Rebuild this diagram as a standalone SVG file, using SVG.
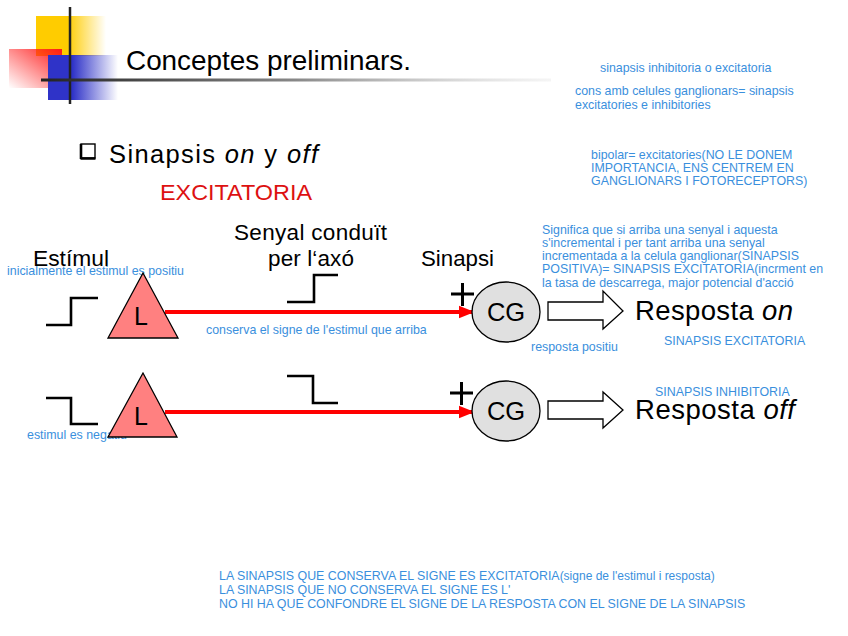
<svg xmlns="http://www.w3.org/2000/svg" width="848" height="636" viewBox="0 0 848 636">
<defs>
<linearGradient id="gY" x1="0" y1="0" x2="1" y2="0"><stop offset="0.45" stop-color="#ffcc00"/><stop offset="1" stop-color="#ffcc00" stop-opacity="0"/></linearGradient>
<linearGradient id="gB" x1="0" y1="0" x2="1" y2="0"><stop offset="0.35" stop-color="#2f33c8"/><stop offset="1" stop-color="#2f33c8" stop-opacity="0"/></linearGradient>
<linearGradient id="gR" x1="1" y1="0" x2="0" y2="1"><stop offset="0" stop-color="#ff1a1a"/><stop offset="1" stop-color="#ff1a1a" stop-opacity="0"/></linearGradient>
<linearGradient id="gL" x1="0" y1="0" x2="1" y2="0"><stop offset="0" stop-color="#222"/><stop offset="0.5" stop-color="#888"/><stop offset="1" stop-color="#ccc" stop-opacity="0.2"/></linearGradient>
<marker id="ah" viewBox="0 0 10 10" refX="9" refY="5" markerWidth="4" markerHeight="4" orient="auto" markerUnits="strokeWidth"><path d="M0,1 L10,5 L0,9 z" fill="#ff0000"/></marker>
<style>
.t{font-family:"Liberation Sans",Arial,sans-serif;fill:#000}
.b{font-family:"Liberation Sans",Arial,sans-serif;fill:#3a8fdd;font-size:12.4px}
.step{fill:none;stroke:#000;stroke-width:2.6}
.tri{fill:#ff8080;stroke:#000;stroke-width:1.3}
.cg{fill:#e0e0e0;stroke:#000;stroke-width:1.3}
.harrow{fill:#fff;stroke:#000;stroke-width:1.3}
.axon{stroke:#ff0000;stroke-width:4;fill:none}
.plus{stroke:#000;stroke-width:3}
</style>
</defs>
<rect width="848" height="636" fill="#fff"/>
<g id="logo">
<rect x="36" y="16" width="70" height="40" fill="url(#gY)"/>
<rect x="9" y="49" width="53" height="39" fill="url(#gR)"/>
<rect x="48" y="55" width="70" height="45" fill="url(#gB)"/>
<line x1="70" y1="7" x2="70" y2="104" stroke="#222" stroke-width="2.5"/>
<rect x="41" y="78.5" width="510" height="3" fill="url(#gL)"/>
</g>
<g id="title"><text class="t" x="126" y="70" font-size="27.5" textLength="285" lengthAdjust="spacingAndGlyphs">Conceptes preliminars.</text></g>
<g id="notes-top">
<text class="b" x="600" y="72">sinapsis inhibitoria o excitatoria</text>
<text class="b" x="575" y="95">cons amb celules ganglionars= sinapsis</text>
<text class="b" x="575" y="109">excitatories e inhibitories</text>
<text class="b" x="591" y="159">bipolar= excitatories(NO LE DONEM</text>
<text class="b" x="591" y="172">IMPORTANCIA, ENS CENTREM EN</text>
<text class="b" x="591" y="185">GANGLIONARS I FOTORECEPTORS)</text>
</g>
<g id="heading">
<rect x="81" y="144" width="14" height="14" fill="#fff" stroke="#000" stroke-width="1.4"/>
<path d="M80.5,158.5 H95.5 M81,144 V159" fill="none" stroke="#000" stroke-width="2.6"/>
<text class="t" x="109" y="163" font-size="25.5" textLength="209" lengthAdjust="spacing">Sinapsis <tspan font-style="italic">on</tspan> y <tspan font-style="italic">off</tspan></text>
<text class="t" x="160" y="200" font-size="22" textLength="152" lengthAdjust="spacingAndGlyphs" style="fill:#dd1111">EXCITATORIA</text>
</g>
<g id="labels">
<text class="t" x="234" y="240" font-size="22.5" textLength="153" lengthAdjust="spacing">Senyal  conduït</text>
<text class="t" x="268" y="266" font-size="22.5" textLength="86" lengthAdjust="spacing">per l‘axó</text>
<text class="t" x="421" y="266" font-size="22.5" textLength="73" lengthAdjust="spacingAndGlyphs">Sinapsi</text>
<text class="t" x="33" y="266" font-size="22.5" textLength="76" lengthAdjust="spacingAndGlyphs">Estímul</text>
<text class="b" x="7" y="275">inicialmente el estimul es positiu</text>
<text class="b" x="206" y="334">conserva el signe de l'estimul que arriba</text>
<text class="b" x="531" y="351">resposta positiu</text>
<text class="b" x="664" y="345">SINAPSIS EXCITATORIA</text>
<text class="b" x="542" y="234">Significa que si arriba una senyal i aquesta</text>
<text class="b" x="542" y="247">s'incremental i per tant arriba una senyal</text>
<text class="b" x="542" y="260">incrementada a la celula ganglionar(SINAPSIS</text>
<text class="b" x="542" y="273">POSITIVA)= SINAPSIS EXCITATORIA(incrment en</text>
<text class="b" x="542" y="287">la tasa de descarrega, major potencial d'acció</text>
<text class="b" x="27" y="439">estimul es negatiu</text>
</g>
<g id="connectors">
<line class="axon" x1="165" y1="312" x2="473" y2="312" marker-end="url(#ah)"/>
<line class="axon" x1="165" y1="412" x2="473" y2="412" marker-end="url(#ah)"/>
</g>
<g id="stim-on"><path class="step" d="M46,325 H71 V298 H98"/></g>
<g id="L-on"><polygon class="tri" points="143,273 108,338 178,338"/><text class="t" x="141" y="325" font-size="25" text-anchor="middle">L</text></g>
<g id="axon-step-on"><path class="step" d="M287,302 H314 V275 H338"/></g>
<g id="CG-on">
<path class="plus" d="M451,294 H474 M462.5,283 V306"/>
<ellipse class="cg" cx="506" cy="312" rx="34" ry="30"/>
<text class="t" x="506" y="321" font-size="25.5" text-anchor="middle">CG</text>
</g>
<g id="resp-on">
<polygon class="harrow" points="548,302 603,302 603,291 623,311 603,329 603,320 548,320"/>
<text class="t" x="635" y="320" font-size="27.5" textLength="158" lengthAdjust="spacing">Resposta <tspan font-style="italic">on</tspan></text>
</g>
<g id="stim-off"><path class="step" d="M46,398 H71 V424 H98"/></g>
<g id="L-off"><polygon class="tri" points="143,373 108,437 177,437"/><text class="t" x="141" y="425" font-size="25" text-anchor="middle">L</text></g>
<g id="axon-step-off"><path class="step" d="M287,376 H313 V403 H338"/></g>
<g id="CG-off">
<path class="plus" d="M450,393 H473 M461.5,382 V405"/>
<ellipse class="cg" cx="506" cy="411" rx="34" ry="30"/>
<text class="t" x="506" y="420" font-size="25.5" text-anchor="middle">CG</text>
</g>
<g id="resp-off">
<polygon class="harrow" points="548,401 603,401 603,392 623,410 603,428 603,419 548,419"/>
<text class="t" x="635" y="419" font-size="27.5" textLength="160" lengthAdjust="spacing">Resposta <tspan font-style="italic">off</tspan></text>
<text class="b" x="655" y="396">SINAPSIS INHIBITORIA</text>
</g>
<g id="notes-bottom">
<text class="b" x="219" y="580">LA SINAPSIS QUE CONSERVA EL SIGNE ES EXCITATORIA<tspan font-size="12">(signe de l'estimul i resposta)</tspan></text>
<text class="b" x="219" y="594">LA SINAPSIS QUE NO CONSERVA EL  SIGNE ES L'</text>
<text class="b" x="219" y="608">NO HI HA QUE  CONFONDRE EL SIGNE DE LA RESPOSTA CON EL SIGNE DE LA SINAPSIS</text>
</g>
</svg>
